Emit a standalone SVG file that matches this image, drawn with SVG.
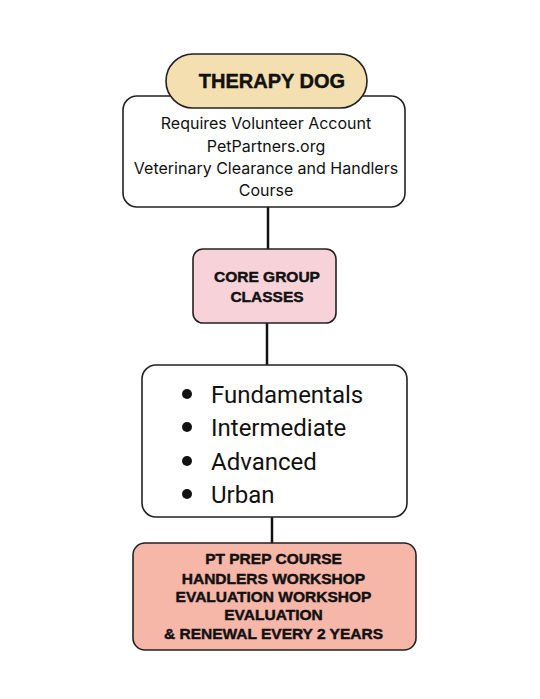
<svg xmlns="http://www.w3.org/2000/svg" width="540" height="699" viewBox="0 0 540 699">
<style>
.box{stroke:#222;stroke-width:1.6}
.t{font-family:Inter,"Liberation Sans",sans-serif;fill:#111;text-anchor:middle}
.b{font-family:"Liberation Sans",Arial,sans-serif;font-weight:bold;stroke:#111;stroke-width:0.45}
.ln{stroke:#111;stroke-width:2.5;fill:none}
</style>
<rect width="540" height="699" fill="#fff"/>
<g id="connectors">
<line class="ln" x1="268" y1="207" x2="268" y2="249"/>
<line class="ln" x1="267" y1="323" x2="267" y2="365"/>
<line class="ln" x1="272" y1="517" x2="272" y2="543"/>
</g>
<g id="info">
<rect class="box" x="123" y="96" width="282" height="111" rx="14" fill="#fff"/>
<text class="t" font-size="16"><tspan x="266" y="129">Requires Volunteer Account</tspan><tspan x="266" y="152">PetPartners.org</tspan><tspan x="266" y="174">Veterinary Clearance and Handlers</tspan><tspan x="266" y="196">Course</tspan></text>
</g>
<g id="title">
<rect class="box" x="166" y="54" width="201" height="54" rx="27" fill="#f4dfb0"/>
<text class="t b" x="272" y="88" font-size="20">THERAPY DOG</text>
</g>
<g id="core">
<rect class="box" x="193" y="249" width="143" height="74" rx="10" fill="#f7d3d9"/>
<text class="t b" font-size="15.5"><tspan x="267" y="282">CORE GROUP</tspan><tspan x="267" y="302">CLASSES</tspan></text>
</g>
<g id="classes">
<rect class="box" x="142" y="365" width="265" height="152" rx="14" fill="#fff"/>
<circle cx="187" cy="394" r="5" fill="#111"/>
<circle cx="187" cy="427" r="5" fill="#111"/>
<circle cx="187" cy="461" r="5" fill="#111"/>
<circle cx="187" cy="494" r="5" fill="#111"/>
<text class="t" font-size="24" style="text-anchor:start;font-family:Roboto,'Liberation Sans',sans-serif"><tspan x="211" y="403">Fundamentals</tspan><tspan x="211" y="436">Intermediate</tspan><tspan x="211" y="470">Advanced</tspan><tspan x="211" y="503">Urban</tspan></text>
</g>
<g id="prep">
<rect class="box" x="133" y="543" width="283" height="107" rx="12" fill="#f6b6a8"/>
<text class="t b" font-size="15.5"><tspan x="273.5" y="564">PT PREP COURSE</tspan><tspan x="273.5" y="584">HANDLERS WORKSHOP</tspan><tspan x="273.5" y="602">EVALUATION WORKSHOP</tspan><tspan x="273.5" y="620">EVALUATION</tspan><tspan x="273.5" y="639">&amp; RENEWAL EVERY 2 YEARS</tspan></text>
</g>
</svg>
